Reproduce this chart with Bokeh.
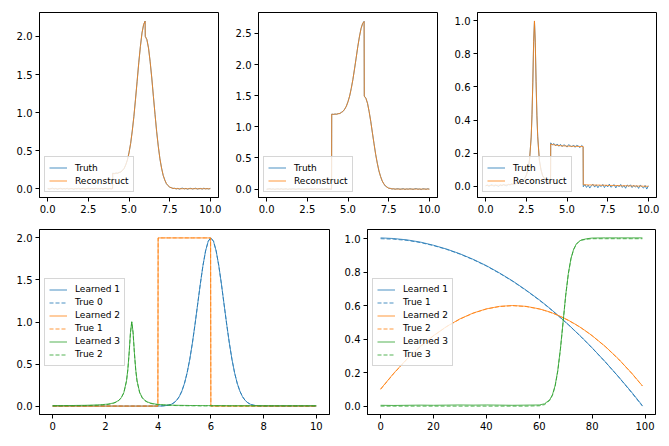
from bokeh.plotting import figure
from bokeh.layouts import column, row
from bokeh.models import Range1d, FixedTicker, Legend, LegendItem, CustomJSTickFormatter
from bokeh.embed import file_html
from bokeh.resources import INLINE

# ---------------- spatial grid (x from 0 to 10) ----------------
x_grid = [0.0, 0.1, 0.2, 0.3, 0.4, 0.5, 0.6, 0.7, 0.8, 0.9, 1.0, 1.1, 1.2, 1.3, 1.4, 1.5, 1.6, 1.7, 1.8, 1.9,
          2.0, 2.1, 2.2, 2.3, 2.4, 2.5, 2.6, 2.7, 2.8,
          2.85, 2.9, 2.95, 3.0, 3.05, 3.1, 3.15,
          3.2, 3.3, 3.4, 3.5, 3.6, 3.7, 3.8, 3.9, 3.99,
          4.0, 4.1, 4.2, 4.3, 4.4, 4.5, 4.6, 4.7, 4.8, 4.9, 5.0, 5.1, 5.2, 5.3, 5.4, 5.5, 5.6, 5.7, 5.8, 5.9, 5.99,
          6.0, 6.1, 6.2, 6.3, 6.4, 6.5, 6.6, 6.7, 6.8, 6.9, 7.0, 7.1, 7.2, 7.3, 7.4, 7.5, 7.6, 7.7, 7.8, 7.9,
          8.0, 8.1, 8.2, 8.3, 8.4, 8.5, 8.6, 8.7, 8.8, 8.9, 9.0, 9.1, 9.2, 9.3, 9.4, 9.5, 9.6, 9.7, 9.8, 9.9, 10.0]

# components (bottom-left panel)
true_0 = [0, 0, 0, 0, 0, 0, 0, 0, 0, 0, 0, 0, 0, 0, 0, 0, 0, 0, 0, 0,
          0, 0, 0, 0, 0, 0, 0, 0, 0,
          0, 0, 0, 0, 0, 0, 0,
          0, 0, 0, 0, 0, 0, 0, 0, 0,
          0.001, 0.001, 0.003, 0.006, 0.012, 0.022, 0.040, 0.068, 0.112, 0.178,
          0.271, 0.396, 0.556, 0.751, 0.974, 1.213, 1.452, 1.671, 1.846, 1.960, 2.000,
          2.000, 1.960, 1.846, 1.671, 1.452, 1.213, 0.974, 0.751, 0.556, 0.396,
          0.271, 0.178, 0.112, 0.068, 0.040, 0.022, 0.012, 0.006, 0.003, 0.001,
          0.001, 0, 0, 0, 0, 0, 0, 0, 0, 0, 0, 0, 0, 0, 0, 0, 0, 0, 0, 0, 0]
learned_1 = [0, 0, 0, 0, 0, 0, 0, 0, 0, 0, 0, 0, 0, 0, 0, 0, 0, 0, 0, 0,
             0, 0, 0, 0, 0, 0, 0, 0, 0,
             0, 0, 0, 0, 0, 0, 0,
             0, 0, 0, 0, 0, 0, 0, 0, 0,
             0.001, 0.001, 0.003, 0.006, 0.012, 0.022, 0.040, 0.068, 0.112, 0.178,
             0.271, 0.396, 0.556, 0.751, 0.974, 1.213, 1.452, 1.671, 1.846, 1.960, 2.000,
             2.000, 1.960, 1.846, 1.671, 1.452, 1.213, 0.974, 0.751, 0.556, 0.396,
             0.271, 0.178, 0.112, 0.068, 0.040, 0.022, 0.012, 0.006, 0.003, 0.001,
             0.001, 0, 0, 0, 0, 0, 0, 0, 0, 0, 0, 0, 0, 0, 0, 0, 0, 0, 0, 0, 0]
true_1 = [0, 0, 0, 0, 0, 0, 0, 0, 0, 0, 0, 0, 0, 0, 0, 0, 0, 0, 0, 0,
          0, 0, 0, 0, 0, 0, 0, 0, 0,
          0, 0, 0, 0, 0, 0, 0,
          0, 0, 0, 0, 0, 0, 0, 0, 0,
          2, 2, 2, 2, 2, 2, 2, 2, 2, 2, 2, 2, 2, 2, 2, 2, 2, 2, 2, 2, 2,
          0, 0, 0, 0, 0, 0, 0, 0, 0, 0, 0, 0, 0, 0, 0, 0, 0, 0, 0, 0,
          0, 0, 0, 0, 0, 0, 0, 0, 0, 0, 0, 0, 0, 0, 0, 0, 0, 0, 0, 0, 0]
learned_2 = [0, 0, 0, 0, 0, 0, 0, 0, 0, 0, 0, 0, 0, 0, 0, 0, 0, 0, 0, 0,
             0, 0, 0, 0, 0, 0, 0, 0, 0,
             0, 0, 0, 0, 0, 0, 0,
             0, 0, 0, 0, 0, 0, 0, 0, 0,
             2, 2, 2, 2, 2, 2, 2, 2, 2, 2, 2, 2, 2, 2, 2, 2, 2, 2, 2, 2, 2,
             0, 0, 0, 0, 0, 0, 0, 0, 0, 0, 0, 0, 0, 0, 0, 0, 0, 0, 0, 0,
             0, 0, 0, 0, 0, 0, 0, 0, 0, 0, 0, 0, 0, 0, 0, 0, 0, 0, 0, 0, 0]
true_2 = [0.002, 0.002, 0.002, 0.002, 0.002, 0.003, 0.003, 0.003, 0.003, 0.004,
          0.004, 0.005, 0.005, 0.006, 0.007, 0.008, 0.009, 0.010, 0.012, 0.014,
          0.017, 0.020, 0.026, 0.033, 0.045, 0.063, 0.096, 0.158, 0.297,
          0.429, 0.628, 0.871, 1.000, 0.871, 0.628, 0.429,
          0.297, 0.158, 0.096, 0.063, 0.045, 0.033, 0.026, 0.020, 0.017,
          0.017, 0.014, 0.012, 0.010, 0.009, 0.008, 0.007, 0.006, 0.005, 0.005,
          0.004, 0.004, 0.003, 0.003, 0.003, 0.003, 0.002, 0.002, 0.002, 0.002, 0.002,
          0.002, 0.002, 0.002, 0.002, 0.002, 0.002, 0.001, 0.001, 0.001, 0.001,
          0.001, 0.001, 0.001, 0.001, 0.001, 0.001, 0.001, 0.001, 0.001, 0.001,
          0.001, 0.001, 0.001, 0.001, 0.001, 0.001, 0.001, 0.001, 0.001, 0.001,
          0.001, 0.001, 0.001, 0.001, 0.001, 0.001, 0.001, 0.001, 0.001, 0.001, 0.001]
learned_3 = [0.006, 0.006, 0.006, 0.006, 0.006, 0.007, 0.007, 0.007, 0.007, 0.008,
             0.008, 0.009, 0.009, 0.010, 0.011, 0.012, 0.013, 0.014, 0.016, 0.018,
             0.021, 0.024, 0.030, 0.037, 0.049, 0.067, 0.100, 0.162, 0.301,
             0.433, 0.632, 0.875, 1.004, 0.875, 0.632, 0.433,
             0.301, 0.162, 0.100, 0.067, 0.049, 0.037, 0.030, 0.024, 0.021,
             0.021, 0.018, 0.016, 0.014, 0.013, 0.012, 0.011, 0.010, 0.009, 0.009,
             0.008, 0.008, 0.007, 0.007, 0.007, 0.007, 0.006, 0.006, 0.006, 0.006, 0.006,
             0.006, 0.006, 0.006, 0.006, 0.006, 0.006, 0.005, 0.005, 0.005, 0.005,
             0.005, 0.005, 0.005, 0.005, 0.005, 0.005, 0.005, 0.005, 0.005, 0.005,
             0.005, 0.005, 0.005, 0.005, 0.005, 0.005, 0.005, 0.005, 0.005, 0.005,
             0.005, 0.005, 0.005, 0.005, 0.005, 0.005, 0.005, 0.005, 0.005, 0.005, 0.005]

# top-left panel
recon_a = [0, 0, 0, 0, 0, 0, 0, 0, 0, 0, 0, 0, 0, 0, 0, 0, 0, 0, 0, 0,
           0, 0, 0, 0, 0, 0, 0, 0, 0,
           0, 0, 0, 0.005, 0, 0, 0,
           0, 0, 0, 0, 0, 0, 0, 0, 0,
           0.201, 0.201, 0.203, 0.206, 0.212, 0.222, 0.240, 0.268, 0.312, 0.378,
           0.471, 0.596, 0.756, 0.951, 1.174, 1.413, 1.652, 1.871, 2.046, 2.160, 2.200,
           2.000, 1.960, 1.846, 1.671, 1.452, 1.213, 0.974, 0.751, 0.556, 0.396,
           0.271, 0.178, 0.112, 0.068, 0.040, 0.022, 0.012, 0.006, 0.003, 0.001,
           0.001, 0, 0, 0, 0, 0, 0, 0, 0, 0, 0, 0, 0, 0, 0, 0, 0, 0, 0, 0, 0]
truth_a = [0.004, -0.006, 0.002, 0.008, -0.003, 0.005, -0.007, 0.001, 0.006, -0.004,
           0.003, -0.002, 0.007, -0.005, 0.002, 0.004, -0.008, 0.003, -0.001, 0.006,
           -0.004, 0.002, 0.005, -0.006, 0.001, 0.007, -0.003, 0.004, -0.002,
           0.003, -0.004, 0.006, 0.002, -0.005, 0.004, 0.001,
           -0.003, 0.005, -0.006, 0.002, 0.007, -0.004, 0.003, -0.002, 0.004,
           0.206, 0.197, 0.208, 0.202, 0.215, 0.219, 0.243, 0.265, 0.315, 0.375,
           0.474, 0.593, 0.759, 0.948, 1.177, 1.410, 1.655, 1.868, 2.049, 2.157, 2.203,
           2.003, 1.957, 1.849, 1.668, 1.455, 1.210, 0.977, 0.748, 0.559, 0.393,
           0.274, 0.175, 0.115, 0.065, 0.043, 0.019, 0.015, 0.003, 0.007, -0.003,
           0.005, -0.006, 0.004, 0.008, -0.002, 0.005, -0.007, 0.003, 0.006, -0.004,
           0.002, 0.007, -0.005, 0.001, 0.004, -0.006, 0.008, -0.002, 0.003, -0.004, 0.005]

# top-middle panel
recon_b = [0, 0, 0, 0, 0, 0, 0, 0, 0, 0, 0, 0, 0, 0, 0, 0, 0, 0, 0, 0,
           0, 0, 0, 0, 0, 0, 0, 0, 0,
           0, 0, 0, 0.005, 0, 0, 0,
           0, 0, 0, 0, 0, 0, 0, 0, 0,
           1.201, 1.201, 1.202, 1.204, 1.209, 1.216, 1.230, 1.251, 1.283, 1.333,
           1.402, 1.495, 1.614, 1.760, 1.926, 2.104, 2.282, 2.445, 2.575, 2.660, 2.690,
           1.490, 1.460, 1.375, 1.245, 1.082, 0.904, 0.726, 0.559, 0.414, 0.295,
           0.202, 0.133, 0.083, 0.051, 0.030, 0.016, 0.009, 0.004, 0.002, 0.001,
           0.001, 0, 0, 0, 0, 0, 0, 0, 0, 0, 0, 0, 0, 0, 0, 0, 0, 0, 0, 0, 0]
truth_b = [-0.005, 0.003, 0.007, -0.002, 0.004, -0.006, 0.002, 0.005, -0.003, 0.008,
           -0.004, 0.001, 0.006, -0.007, 0.003, -0.002, 0.005, 0.002, -0.005, 0.004,
           0.006, -0.003, 0.002, -0.006, 0.004, 0.001, -0.004, 0.007, -0.002,
           0.004, -0.003, 0.002, 0.006, -0.004, 0.003, -0.001,
           0.005, -0.002, 0.004, -0.006, 0.003, 0.006, -0.003, 0.002, -0.005,
           1.205, 1.198, 1.206, 1.201, 1.212, 1.213, 1.234, 1.248, 1.286, 1.330,
           1.405, 1.492, 1.617, 1.757, 1.929, 2.101, 2.285, 2.442, 2.578, 2.657, 2.694,
           1.494, 1.457, 1.378, 1.242, 1.085, 0.901, 0.729, 0.556, 0.417, 0.292,
           0.205, 0.130, 0.086, 0.048, 0.033, 0.013, 0.012, 0.001, 0.006, -0.003,
           0.004, 0.005, -0.004, 0.002, 0.007, -0.006, 0.003, -0.002, 0.006, 0.001,
           -0.005, 0.004, 0.008, -0.003, 0.002, -0.007, 0.005, 0.003, -0.004, 0.006, -0.002]

# top-right panel
recon_c = [0.004, 0.004, 0.004, 0.004, 0.004, 0.005, 0.005, 0.005, 0.005, 0.006,
           0.006, 0.007, 0.007, 0.008, 0.009, 0.010, 0.011, 0.012, 0.014, 0.016,
           0.019, 0.022, 0.028, 0.035, 0.047, 0.065, 0.098, 0.160, 0.299,
           0.431, 0.630, 0.873, 1.000, 0.873, 0.630, 0.431,
           0.299, 0.160, 0.098, 0.065, 0.047, 0.035, 0.028, 0.022, 0.019,
           0.255, 0.252, 0.250, 0.248, 0.247, 0.246, 0.245, 0.244, 0.243, 0.243,
           0.242, 0.242, 0.241, 0.241, 0.241, 0.241, 0.240, 0.240, 0.240, 0.240, 0.240,
           0.008, 0.008, 0.008, 0.007, 0.007, 0.007, 0.007, 0.006, 0.006, 0.006,
           0.006, 0.005, 0.005, 0.005, 0.005, 0.004, 0.004, 0.004, 0.004, 0.003,
           0.003, 0.003, 0.003, 0.002, 0.002, 0.002, 0.002, 0.002, 0.001, 0.001,
           0.001, 0.001, 0.001, 0.000, 0.000, 0.000, 0.000, -0.001, -0.001, -0.001, -0.001]
truth_c = [0.001, 0.007, -0.002, 0.005, 0.009, -0.001, 0.006, 0.003, -0.003, 0.008,
           0.002, 0.010, 0.004, 0.001, 0.012, 0.006, 0.014, 0.009, 0.011, 0.019,
           0.015, 0.025, 0.024, 0.038, 0.044, 0.068, 0.095, 0.163, 0.296,
           0.433, 0.627, 0.875, 0.998, 0.870, 0.633, 0.428,
           0.302, 0.157, 0.101, 0.062, 0.050, 0.031, 0.030, 0.018, 0.023,
           0.262, 0.249, 0.258, 0.244, 0.255, 0.241, 0.253, 0.239, 0.250, 0.246,
           0.236, 0.251, 0.244, 0.238, 0.249, 0.235, 0.247, 0.242, 0.233, 0.246, 0.238,
           -0.004, 0.009, -0.008, 0.006, -0.012, 0.003, 0.011, -0.006, 0.008, -0.010,
           0.005, -0.003, 0.010, -0.009, 0.007, -0.005, 0.012, -0.007, 0.002, 0.009,
           -0.011, 0.006, -0.004, 0.010, -0.008, 0.004, -0.013, 0.007, -0.002, 0.008,
           -0.009, 0.005, -0.006, 0.003, -0.014, 0.006, -0.003, -0.012, 0.004, -0.018, 0.002]

# ---------------- weights over sample index (bottom-right) ----------------
w_index = [0, 5, 10, 15, 20, 25, 30, 35, 40, 45, 50, 55, 60, 62, 64, 65, 66, 67, 68, 69,
           70, 71, 72, 73, 74, 75, 76, 78, 80, 85, 90, 95, 99]
w_learned_1 = [1.005, 1.001, 0.993, 0.980, 0.961, 0.938, 0.910, 0.877, 0.839, 0.795,
               0.747, 0.693, 0.635, 0.610, 0.584, 0.571, 0.557, 0.543, 0.529, 0.515,
               0.501, 0.487, 0.472, 0.457, 0.442, 0.427, 0.412, 0.380, 0.348, 0.264,
               0.175, 0.082, 0.003]
w_true_1 = [1.000, 0.997, 0.990, 0.977, 0.959, 0.936, 0.908, 0.875, 0.837, 0.793,
            0.745, 0.691, 0.633, 0.608, 0.582, 0.569, 0.556, 0.542, 0.528, 0.514,
            0.500, 0.486, 0.471, 0.456, 0.441, 0.426, 0.411, 0.379, 0.347, 0.263,
            0.174, 0.079, 0.000]
w_learned_2 = [0.102, 0.197, 0.282, 0.357, 0.421, 0.476, 0.521, 0.556, 0.581, 0.596,
               0.601, 0.596, 0.581, 0.572, 0.562, 0.556, 0.550, 0.543, 0.536, 0.529,
               0.521, 0.513, 0.504, 0.495, 0.486, 0.476, 0.466, 0.444, 0.421, 0.356,
               0.281, 0.196, 0.121]
w_true_2 = [0.100, 0.195, 0.280, 0.355, 0.420, 0.475, 0.520, 0.555, 0.580, 0.595,
            0.600, 0.595, 0.580, 0.571, 0.561, 0.555, 0.549, 0.542, 0.535, 0.528,
            0.520, 0.512, 0.503, 0.494, 0.485, 0.475, 0.465, 0.443, 0.420, 0.355,
            0.280, 0.195, 0.120]
w_learned_3 = [0.005, 0.004, 0.005, 0.006, 0.005, 0.006, 0.007, 0.006, 0.007, 0.006,
               0.005, 0.006, 0.007, 0.014, 0.039, 0.069, 0.123, 0.213, 0.343, 0.502,
               0.663, 0.793, 0.883, 0.937, 0.968, 0.984, 0.993, 1.000, 1.004, 1.005,
               1.005, 1.005, 1.005]
w_true_3 = [0.000, 0.000, 0.000, 0.000, 0.000, 0.000, 0.000, 0.000, 0.000, 0.000,
            0.000, 0.000, 0.002, 0.009, 0.035, 0.065, 0.119, 0.209, 0.339, 0.500,
            0.661, 0.791, 0.881, 0.935, 0.966, 0.982, 0.991, 0.997, 1.000, 1.000,
            1.000, 1.000, 1.000]

for arr in [true_0, learned_1, true_1, learned_2, true_2, learned_3,
            recon_a, truth_a, recon_b, truth_b, recon_c, truth_c]:
    assert len(arr) == len(x_grid), len(arr)
for arr in [w_learned_1, w_true_1, w_learned_2, w_true_2, w_learned_3, w_true_3]:
    assert len(arr) == len(w_index), len(arr)

BLUE, ORANGE, GREEN = "#1f77b4", "#ff7f0e", "#2ca02c"
FONT = "DejaVu Sans"
LW = 1.0
ALPHA = 0.8


def make_fig(fw, fh, xr, yr, xticks, yticks, xdec, ydec, bl, br, bt, bb):
    p = figure(frame_width=fw, frame_height=fh, x_range=Range1d(*xr), y_range=Range1d(*yr),
               output_backend="svg", toolbar_location=None,
               min_border_left=bl, min_border_right=br, min_border_top=bt, min_border_bottom=bb)
    p.xgrid.visible = False
    p.ygrid.visible = False
    p.outline_line_color = "black"
    p.outline_line_width = 1
    p.outline_line_alpha = 1
    p.background_fill_color = "white"
    p.border_fill_color = "white"
    p.xaxis.ticker = FixedTicker(ticks=xticks)
    p.yaxis.ticker = FixedTicker(ticks=yticks)
    p.xaxis.formatter = CustomJSTickFormatter(code="return tick.toFixed(%d);" % xdec)
    p.yaxis.formatter = CustomJSTickFormatter(code="return tick.toFixed(%d);" % ydec)
    for ax in (p.xaxis[0], p.yaxis[0]):
        ax.axis_line_color = "black"
        ax.axis_line_width = 1
        ax.major_tick_line_color = "black"
        ax.major_tick_line_width = 1
        ax.major_tick_in = 0
        ax.major_tick_out = 4
        ax.minor_tick_line_color = None
        ax.major_label_text_font = FONT
        ax.major_label_text_font_size = "10px"
        ax.major_label_text_color = "black"
        ax.major_label_standoff = 3
    return p


def style_legend(leg, loc):
    leg.location = loc
    leg.label_text_font = FONT
    leg.label_text_font_size = "9px"
    leg.label_text_color = "black"
    leg.glyph_width = 18
    leg.glyph_height = 13
    leg.label_height = 13
    leg.label_standoff = 8
    leg.spacing = 0
    leg.padding = 4
    leg.margin = 5
    leg.border_line_color = "#cccccc"
    leg.border_line_alpha = 0.8
    leg.border_line_width = 1
    leg.background_fill_color = "white"
    leg.background_fill_alpha = 0.8


def top_panel(yr, yticks, truth, recon, bl, br):
    p = make_fig(179, 185, (-0.5, 10.5), yr, [0, 2.5, 5, 7.5, 10], yticks, 1, 1, bl, br, 12, 26)
    r1 = p.line(x_grid, truth, line_color=BLUE, line_width=LW, line_alpha=ALPHA)
    r2 = p.line(x_grid, recon, line_color=ORANGE, line_width=LW, line_alpha=ALPHA)
    leg = Legend(items=[LegendItem(label="Truth", renderers=[r1]),
                        LegendItem(label="Reconstruct", renderers=[r2])])
    style_legend(leg, "bottom_left")
    p.add_layout(leg)
    return p


p1 = top_panel((-0.115, 2.315), [0, 0.5, 1.0, 1.5, 2.0], truth_a, recon_a, 39, 10)
p2 = top_panel((-0.135, 2.835), [0, 0.5, 1.0, 1.5, 2.0, 2.5], truth_b, recon_b, 30, 10)
p3 = top_panel((-0.069, 1.051), [0, 0.2, 0.4, 0.6, 0.8, 1.0], truth_c, recon_c, 30, 4)

# bottom-left: components
p4 = make_fig(290, 185, (-0.5, 10.5), (-0.1, 2.1), [0, 2, 4, 6, 8, 10],
              [0, 0.5, 1.0, 1.5, 2.0], 0, 1, 39, 10, 6, 20)
items = []
for lab_l, yl, lab_t, yt, col in [("Learned 1", learned_1, "True 0", true_0, BLUE),
                                   ("Learned 2", learned_2, "True 1", true_1, ORANGE),
                                   ("Learned 3", learned_3, "True 2", true_2, GREEN)]:
    ra = p4.line(x_grid, yl, line_color=col, line_width=LW, line_alpha=ALPHA)
    rb = p4.line(x_grid, yt, line_color=col, line_width=LW, line_alpha=ALPHA, line_dash="4 2")
    items.append(LegendItem(label=lab_l, renderers=[ra]))
    items.append(LegendItem(label=lab_t, renderers=[rb]))
leg4 = Legend(items=items)
style_legend(leg4, "left")
p4.add_layout(leg4)

# bottom-right: weights
p5 = make_fig(288, 185, (-4.95, 103.95), (-0.05, 1.055), [0, 20, 40, 60, 80, 100],
              [0, 0.2, 0.4, 0.6, 0.8, 1.0], 0, 1, 28, 5, 6, 20)
items = []
for lab_l, yl, lab_t, yt, col in [("Learned 1", w_learned_1, "True 1", w_true_1, BLUE),
                                   ("Learned 2", w_learned_2, "True 2", w_true_2, ORANGE),
                                   ("Learned 3", w_learned_3, "True 3", w_true_3, GREEN)]:
    ra = p5.line(w_index, yl, line_color=col, line_width=LW, line_alpha=ALPHA)
    rb = p5.line(w_index, yt, line_color=col, line_width=LW, line_alpha=ALPHA, line_dash="4 2")
    items.append(LegendItem(label=lab_l, renderers=[ra]))
    items.append(LegendItem(label=lab_t, renderers=[rb]))
leg5 = Legend(items=items)
style_legend(leg5, "left")
p5.add_layout(leg5)

layout = column(row(p1, p2, p3), row(p4, p5))
open("out.html", "w").write(file_html(layout, INLINE))
